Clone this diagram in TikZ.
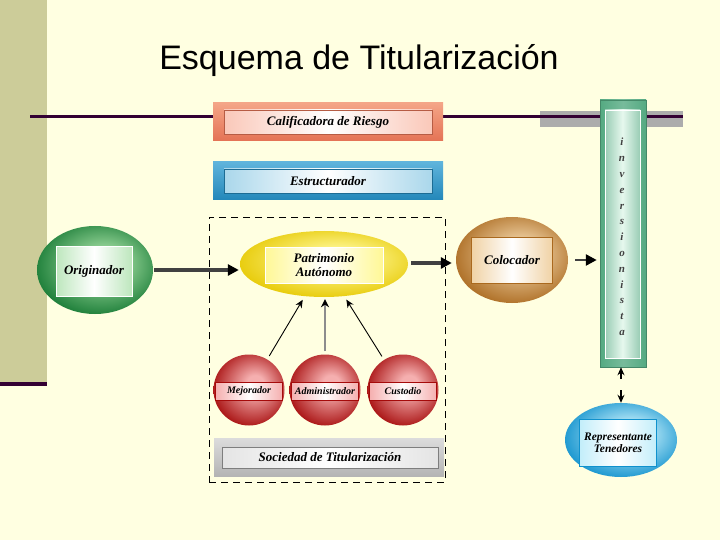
\documentclass[tikz,border=0pt]{standalone}
\usepackage{fontspec}
\setmainfont{Liberation Serif}
\newfontfamily\titlefont{Liberation Sans}
\usetikzlibrary{shapes.geometric,arrows.meta}
\definecolor{bg}{RGB}{255,255,225}
\definecolor{khaki}{RGB}{204,204,153}
\definecolor{plum}{RGB}{51,0,51}
\definecolor{bandgray}{RGB}{172,172,172}
\definecolor{salmonD}{RGB}{228,115,85}
\definecolor{salmonL}{RGB}{244,165,135}
\definecolor{salmonT}{RGB}{250,200,185}
\definecolor{blueD}{RGB}{35,135,185}
\definecolor{blueL}{RGB}{95,180,220}
\definecolor{blueT}{RGB}{170,215,235}
\definecolor{grayD}{RGB}{180,180,180}
\definecolor{grayL}{RGB}{220,220,220}
\definecolor{grayT}{RGB}{228,228,228}
\definecolor{greenD}{RGB}{20,120,50}
\definecolor{greenL}{RGB}{160,220,160}
\definecolor{yellowD}{RGB}{230,200,0}
\definecolor{yellowL}{RGB}{255,248,150}
\definecolor{brownD}{RGB}{170,105,30}
\definecolor{brownL}{RGB}{240,210,165}
\definecolor{redD}{RGB}{165,10,10}
\definecolor{redL}{RGB}{245,175,175}
\definecolor{cyanD}{RGB}{15,145,205}
\definecolor{cyanL}{RGB}{195,238,250}
\definecolor{invD}{RGB}{85,170,130}
\definecolor{invL}{RGB}{230,248,238}
\definecolor{shaft}{RGB}{65,65,65}
\colorlet{colA}{white}
\colorlet{colB}{black}
\pgfdeclareradialshading[colA,colB]{softrad}{\pgfpoint{5bp}{5bp}}{color(0bp)=(colA); color(6bp)=(colA); color(30bp)=(colB); color(50bp)=(colB)}
\begin{document}
\begin{tikzpicture}[x=1pt,y=-1pt,
  soft/.style 2 args={/utils/exec={\colorlet{colA}{#1}\colorlet{colB}{#2}}, shading=softrad},
  lbl/.style={font=\bfseries\itshape\fontsize{13}{14}\selectfont, text=black, align=center},
  outerbox/.style={minimum width=230pt, minimum height=38pt, inner sep=0pt},
  innerbox/.style={lbl, minimum width=208pt, minimum height=24pt, inner sep=0pt, line width=0.6pt},
  oval/.style={ellipse, inner sep=0pt},
  inrect/.style={lbl, inner sep=0pt, draw=white, line width=0.6pt},
  ball/.style={circle, minimum size=71pt, inner sep=0pt, soft={redL}{redD}},
  ballband/.style={font=\bfseries\itshape\fontsize{10}{11}\selectfont, minimum width=67pt, minimum height=18pt, inner sep=0pt,
     draw=redD, line width=0.5pt, left color=redL, right color=redL, middle color=white},
  bigarr/.style={draw=shaft, line width=3.2pt, -{Triangle[length=11pt,width=11pt,color=black]}},
  thinarr/.style={draw=black, line width=0.9pt, -{Stealth[length=8pt,width=7pt]}},
  midarr/.style={draw=shaft!60, line width=2.6pt, -{Stealth[length=8pt,width=8pt,color=black]}}]
\useasboundingbox (0,0) rectangle (720,540);
\fill[bg] (0,0) rectangle (720,540);
\fill[khaki] (0,0) rectangle (47,383);
\fill[plum] (0,382) rectangle (47,386);
\node[font=\titlefont\fontsize{34}{40}\selectfont] (title) at (359,61) {Esquema de Titularización};
% top line
\fill[bandgray] (540,111) rectangle (683,127);
\coordinate (lineL) at (30,117);
\coordinate (lineR) at (683,117);
\draw[plum, line width=3pt] (lineL) -- (lineR);
% dashed frame
\node[draw=black, dashed, dash pattern=on 7pt off 5pt, line width=0.7pt, minimum width=236pt, minimum height=265pt, inner sep=0pt] (frame) at (327,349.5) {};
% rectangular boxes
\node[outerbox, top color=salmonL, bottom color=salmonD] (calif) at (328,122) {};
\node[innerbox, draw=salmonD!80!black, left color=salmonT, right color=salmonT, middle color=white] (califtxt) at (calif.center) {Calificadora de Riesgo};
\node[outerbox, top color=blueL, bottom color=blueD] (estr) at (328,181) {};
\node[innerbox, draw=blueD!80!black, left color=blueT, right color=blueT, middle color=white] (estrtxt) at (estr.center) {Estructurador};
\node[outerbox, minimum height=38pt, top color=grayL, bottom color=grayD] (soc) at (329,457) {};
\node[innerbox, minimum width=216pt, minimum height=21pt, draw=grayD!70!black, left color=grayT, right color=grayT, middle color=white] (soctxt) at (330,457.5) {Sociedad de Titularización};
% inversionista column
\node[minimum width=46pt, minimum height=267pt, inner sep=0pt, left color=invD, right color=invD, middle color=invD!80!white, draw=invD!80!black, line width=0.5pt] (inv) at (623,233.5) {};
\node[minimum width=35pt, minimum height=248pt, inner sep=0pt, left color=invD!60!white, right color=invD!60!white, middle color=invL, draw=white, line width=0.8pt] (invin) at (622.5,234) {};
\node[font=\bfseries\itshape\fontsize{11}{15.8}\selectfont, text=black!75, align=center, inner sep=0pt] (invtxt) at (622,237) {i\\n\\v\\e\\r\\s\\i\\o\\n\\i\\s\\t\\a};
% ellipses
\node[oval, minimum width=116pt, minimum height=88pt, soft={greenL}{greenD}] (orig) at (95,270) {};
\node[inrect, minimum width=76pt, minimum height=50pt, left color=greenL!70!white, right color=greenL!70!white, middle color=white] (origtxt) at (94,271) {Originador};
\node[oval, minimum width=168pt, minimum height=66pt, soft={yellowL}{yellowD}] (patr) at (324,264) {};
\node[inrect, minimum width=118pt, minimum height=36pt, left color=yellowL, right color=yellowL, middle color=white] (patrtxt) at (324,265) {Patrimonio\\Autónomo};
\node[oval, minimum width=112pt, minimum height=86pt, soft={brownL}{brownD}] (col) at (512,260) {};
\node[inrect, minimum width=81pt, minimum height=46pt, draw=brownD, left color=brownL, right color=brownL, middle color=white] (coltxt) at (512,260) {Colocador};
\node[oval, minimum width=112pt, minimum height=74pt, soft={cyanL}{cyanD}] (rep) at (621,440) {};
\node[inrect, minimum width=77pt, minimum height=47pt, draw=cyanD, left color=cyanL, right color=cyanL, middle color=white, font=\bfseries\itshape\fontsize{11.5}{12.5}\selectfont] (reptxt) at (618,443) {Representante\\Tenedores};
% red balls
\node[ball] (mej) at (249,390) {};
\node[ballband] (mejtxt) at (249,391) {Mejorador};
\node[ball] (adm) at (325,390) {};
\node[ballband] (admtxt) at (325,391) {Administrador};
\node[ball] (cus) at (403,390) {};
\node[ballband] (custxt) at (403,391) {Custodio};
% connectors
\draw[bigarr, shorten <=1pt, shorten >=1pt] (orig) -- (orig -| patr.west);
\draw[bigarr, shorten <=3pt, shorten >=4pt] (patr.east |- 0,263) -- (col.west |- 0,263);
\draw[bigarr, line width=2.6pt, shorten <=7pt, shorten >=3pt] (col) -- (col -| inv.west);
\draw[thinarr, shorten <=4pt, shorten >=4pt] (mej) -- (patr);
\draw[midarr, shorten <=3pt, shorten >=2pt] (adm) -- (adm |- patr.south);
\draw[thinarr, shorten <=4pt, shorten >=4pt] (cus) -- (patr);
\coordinate (m1) at (621,379);
\coordinate (m2) at (621,390);
\draw[thinarr, line width=1.4pt] (m1) -- (inv.south -| m1);
\draw[thinarr, line width=1.4pt] (m2) -- (rep.north -| m2);
\end{tikzpicture}
\end{document}
